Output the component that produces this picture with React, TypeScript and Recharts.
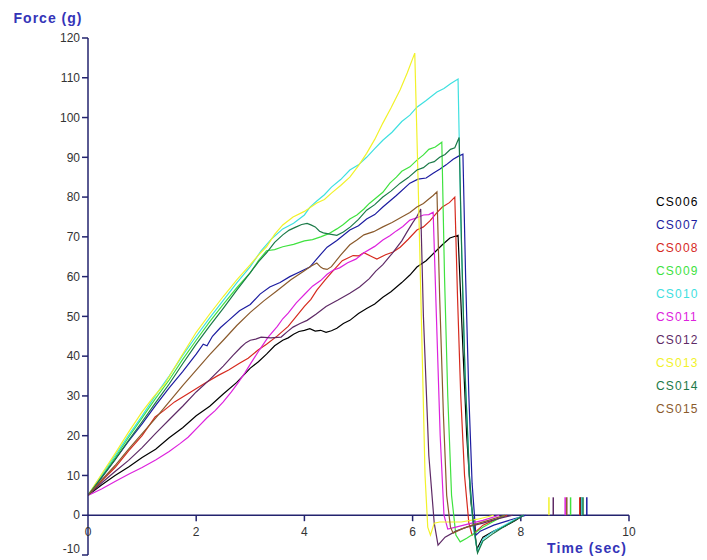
import React from 'react';
import { LineChart, Line, XAxis, YAxis, ReferenceLine, ReferenceDot, Legend } from 'recharts';

const seriesNames = ['CS006', 'CS007', 'CS008', 'CS009', 'CS010', 'CS011', 'CS012', 'CS013', 'CS014', 'CS015'];
const seriesColors = ['#000000', '#1c1ca0', '#d62a1e', '#3fe23f', '#3fe0e0', '#dd22dd', '#5e2a66', '#f2f22a', '#1b7a48', '#8a5a2c'];

// [time (sec), force (g)]
const cs006: [number, number][] = [
  [0, 5], [0.25, 7.6], [0.5, 10], [0.75, 12.1], [1, 14.5], [1.25, 16.6], [1.5, 19.5], [1.75, 22], [2, 25],
  [2.25, 27.4], [2.5, 30.5], [2.75, 33.4], [3, 37], [3.15, 38.6], [3.3, 40.5], [3.45, 42.6], [3.6, 44],
  [3.7, 44.6], [3.8, 45.5], [3.9, 46.2], [4.0, 46.5], [4.1, 46.9], [4.2, 46.3], [4.3, 46.5], [4.4, 46],
  [4.5, 46.4], [4.6, 47], [4.72, 48.2], [4.84, 49], [5.0, 50.7], [5.15, 52], [5.3, 53.1], [5.45, 54.8],
  [5.6, 56.2], [5.8, 58.5], [5.95, 60.4], [6.08, 62.4], [6.25, 64], [6.4, 66], [6.55, 68], [6.69, 69.7],
  [6.84, 70.4], [6.92, 45], [7.0, 20], [7.08, 3], [7.19, -8.5], [7.3, -5.5], [7.5, -4], [7.7, -2.8], [7.9, -1.3],
  [8.05, 0],
];
const cs007: [number, number][] = [
  [0, 5], [0.25, 9.4], [0.5, 14], [0.75, 18.6], [1, 23], [1.25, 27.6], [1.5, 32], [1.75, 36.1], [2, 40.5],
  [2.13, 43], [2.2, 42.6], [2.3, 45], [2.45, 47.2], [2.6, 49], [2.8, 51.4], [3, 53], [3.18, 55.6], [3.36, 57.4],
  [3.55, 58.5], [3.73, 60], [3.9, 61.1], [4.1, 62.4], [4.25, 64.8], [4.42, 67.4], [4.6, 69.1], [4.84, 71.7],
  [5.0, 72.8], [5.15, 74.5], [5.3, 75.6], [5.45, 77.5], [5.7, 80.4], [5.95, 83.5], [6.1, 84.5], [6.25, 84.8],
  [6.38, 86], [6.5, 87], [6.62, 88.1], [6.75, 89.5], [6.85, 90.3], [6.93, 90.8], [6.98, 60], [7.04, 30], [7.1, 8],
  [7.17, -5], [7.25, -4], [7.5, -2.5], [7.8, -1.2], [8.1, 0],
];
const cs008: [number, number][] = [
  [0, 5], [0.25, 8.6], [0.5, 12], [0.75, 16.2], [1, 20], [1.24, 24.7], [1.4, 26.3], [1.6, 28.5], [1.9, 31],
  [2.16, 33.2], [2.4, 35.1], [2.6, 36.5], [2.8, 38.2], [2.96, 39.5], [3.15, 41.6], [3.3, 43], [3.5, 45.1],
  [3.7, 47.5], [3.85, 50], [4.0, 52.5], [4.12, 54.3], [4.23, 56.6], [4.38, 59.1], [4.5, 61], [4.7, 64],
  [4.9, 65.3], [5.0, 65.2], [5.1, 66], [5.25, 65], [5.34, 64.4], [5.5, 65.5], [5.64, 66.2], [5.77, 67.4],
  [5.92, 69.4], [6.08, 71.7], [6.2, 72.5], [6.32, 74], [6.45, 76.1], [6.55, 77.5], [6.68, 78.6], [6.78, 80],
  [6.83, 55], [6.89, 30], [6.96, 10], [7.04, -2], [7.1, -5], [7.3, -2.5], [7.5, -1.3], [7.75, 0],
];
const cs009: [number, number][] = [
  [0, 5], [0.25, 9.8], [0.5, 14.5], [0.75, 19.6], [1, 24.5], [1.25, 29.4], [1.5, 34], [1.75, 39.2], [2, 44],
  [2.25, 48.7], [2.5, 53], [2.75, 57.2], [3, 61], [3.15, 64], [3.3, 66.5], [3.45, 66.8], [3.6, 67.5], [3.8, 68.1],
  [4, 69], [4.15, 69.3], [4.3, 70], [4.45, 70.8], [4.6, 72], [4.72, 73.1], [4.84, 74.5], [4.97, 75.5], [5.1, 77],
  [5.2, 78.4], [5.3, 79.5], [5.45, 81.2], [5.58, 83.5], [5.7, 85], [5.8, 86.5], [5.95, 87.6], [6.08, 89.3],
  [6.2, 90.6], [6.3, 92], [6.42, 92.6], [6.54, 93.8], [6.59, 60], [6.65, 30], [6.72, 5], [6.8, -5], [6.88, -6.7],
  [7.0, -5.8], [7.15, -4.5], [7.3, -3], [7.5, -1.5], [7.7, 0],
];
const cs010: [number, number][] = [
  [0, 5], [0.25, 10], [0.5, 15], [0.75, 20.1], [1, 25], [1.25, 30.2], [1.5, 35], [1.75, 40.2], [2, 45],
  [2.25, 49.6], [2.5, 54], [2.75, 58.4], [3, 62.5], [3.2, 66.5], [3.4, 69.6], [3.6, 72], [3.8, 73.4], [4.0, 75.5],
  [4.1, 77.4], [4.23, 79], [4.37, 80.6], [4.5, 82.5], [4.67, 84.4], [4.84, 86.8], [5.0, 88.1], [5.15, 90],
  [5.3, 92.2], [5.45, 94.3], [5.62, 96.3], [5.8, 99], [5.95, 100.6], [6.08, 102.6], [6.25, 104.3], [6.45, 106.4],
  [6.58, 107.3], [6.7, 108.5], [6.84, 109.7], [6.89, 75], [6.96, 40], [7.05, 10], [7.12, -3], [7.2, -9.3],
  [7.3, -6], [7.5, -4], [7.7, -2.5], [7.9, -1], [8.05, 0],
];
const cs011: [number, number][] = [
  [0, 5], [0.25, 6.6], [0.5, 8.5], [0.75, 10.3], [1, 12], [1.25, 13.9], [1.5, 16], [1.7, 18], [1.85, 19.6],
  [2.05, 22.4], [2.2, 24.5], [2.35, 26.3], [2.5, 28.5], [2.65, 31], [2.77, 33.2], [2.9, 35.8], [3.0, 38],
  [3.17, 41.6], [3.33, 44.8], [3.5, 47.5], [3.6, 49.4], [3.7, 50.8], [3.85, 53.4], [4.0, 55.5], [4.15, 57.6],
  [4.3, 59], [4.42, 60.6], [4.53, 61.6], [4.65, 62.2], [4.8, 63.5], [4.95, 64.4], [5.1, 66], [5.3, 67.6],
  [5.45, 69.2], [5.58, 70.3], [5.7, 71.5], [5.82, 72.6], [5.95, 74.2], [6.08, 74.8], [6.2, 75.5], [6.3, 75.6],
  [6.38, 76.2], [6.44, 50], [6.51, 20], [6.58, 0], [6.65, -3.5], [6.8, -3], [7.0, -2.3], [7.3, -1.3], [7.6, 0],
];
const cs012: [number, number][] = [
  [0, 5], [0.25, 8.1], [0.5, 11], [0.75, 13.8], [1, 17], [1.25, 20.6], [1.5, 24], [1.75, 27.4], [2, 31],
  [2.25, 34.1], [2.5, 37.5], [2.68, 40.2], [2.83, 42.3], [2.92, 43.4], [3.0, 44], [3.1, 44.3], [3.2, 44.8],
  [3.38, 44.6], [3.57, 44.8], [3.68, 46.1], [3.79, 47.3], [3.92, 48.2], [4.05, 49], [4.22, 50.6], [4.4, 52.5],
  [4.62, 54.1], [4.84, 55.8], [5.02, 57.4], [5.2, 59.5], [5.32, 61.4], [5.45, 63], [5.62, 65.8], [5.8, 69],
  [5.9, 71.3], [6.0, 73.5], [6.08, 75.1], [6.15, 77], [6.2, 50], [6.3, 15], [6.4, -2], [6.47, -7.5], [6.6, -5.5],
  [6.8, -4], [7.0, -3], [7.3, -2], [7.6, -0.8], [7.85, 0],
];
const cs013: [number, number][] = [
  [0, 5], [0.25, 10.3], [0.5, 15.5], [0.75, 20.9], [1, 26], [1.2, 29.6], [1.42, 33], [1.7, 39.4], [2, 46],
  [2.25, 50.6], [2.5, 55], [2.75, 59.2], [3, 63], [3.15, 65.4], [3.3, 67.5], [3.45, 70.6], [3.6, 73],
  [3.79, 75], [4.0, 76.4], [4.23, 78.5], [4.37, 79.4], [4.5, 81], [4.67, 82.9], [4.84, 85], [5.0, 87.9],
  [5.15, 91], [5.3, 94.5], [5.45, 98.6], [5.6, 102.4], [5.77, 107], [5.9, 111.2], [6.04, 116.2], [6.1, 85],
  [6.17, 45], [6.23, 10], [6.28, -3], [6.33, -5], [6.4, -2], [6.5, -1.7], [6.9, -1.7], [7.2, -1], [7.5, 0],
];
const cs014: [number, number][] = [
  [0, 5], [0.25, 9.5], [0.5, 14], [0.75, 18.8], [1, 23.5], [1.25, 28.3], [1.5, 33], [1.75, 38.1], [2, 43],
  [2.25, 47.6], [2.5, 52], [2.75, 56.6], [3, 61], [3.15, 63.7], [3.3, 66], [3.45, 68.6], [3.6, 70.5], [3.72, 71.7],
  [3.85, 72.5], [3.95, 73.1], [4.05, 73.4], [4.12, 73], [4.2, 72.5], [4.28, 71.4], [4.35, 71], [4.47, 70.7],
  [4.6, 70.4], [4.72, 71.2], [4.85, 72.5], [5.0, 74.4], [5.15, 76.7], [5.3, 78.1], [5.45, 80], [5.6, 81.5],
  [5.77, 83.5], [5.92, 84.9], [6.08, 86.8], [6.2, 87.4], [6.3, 88.5], [6.4, 88.9], [6.5, 90], [6.6, 90.7],
  [6.7, 92], [6.78, 92.4], [6.86, 95], [6.91, 65], [6.97, 35], [7.05, 10], [7.12, -2], [7.2, -9.5], [7.3, -6.5],
  [7.5, -4.5], [7.7, -2.8], [7.9, -1.2], [8.05, 0],
];
const cs015: [number, number][] = [
  [0, 5], [0.25, 8.8], [0.5, 12.5], [0.75, 16.6], [1, 20.5], [1.25, 24.4], [1.5, 28.5], [1.75, 32.6], [2, 36.5],
  [2.25, 40.4], [2.5, 44], [2.75, 47.7], [3, 51], [3.25, 53.9], [3.5, 56.5], [3.75, 59.2], [4, 61.5],
  [4.12, 62.6], [4.23, 63.4], [4.3, 62.4], [4.35, 62], [4.42, 61.8], [4.5, 62.5], [4.67, 65.4], [4.84, 68],
  [4.97, 69.2], [5.1, 70.5], [5.28, 71.3], [5.45, 72.5], [5.62, 73.6], [5.8, 75], [5.95, 76.1], [6.08, 77.5],
  [6.2, 78.4], [6.3, 79.5], [6.38, 80.4], [6.45, 81.3], [6.5, 55], [6.57, 25], [6.63, 5], [6.7, -3], [6.75, -4.5],
  [6.9, -3.5], [7.1, -2.5], [7.4, -1.3], [7.7, 0],
];

const seriesPoints = [cs006, cs007, cs008, cs009, cs010, cs011, cs012, cs013, cs014, cs015];

// end-of-test markers (time in sec), one per series, drawn as short bars above the zero line
const endMarkerTimes = [9.11, 9.22, 9.09, 8.92, 9.13, 8.82, 8.6, 8.52, 9.15, 8.85];
const endMarkerHeight = 4.5;

const yTicks = [-10, 0, 10, 20, 30, 40, 50, 60, 70, 80, 90, 100, 110, 120];
const xTicks = [0, 2, 4, 6, 8, 10];

const axisColor = '#23236e';
const titleColor = '#3434b8';
const font = 'Arial, "Liberation Sans", sans-serif';

const series = seriesNames.map((name, i) => ({
  name,
  color: seriesColors[i],
  data: seriesPoints[i].map(([t, f]) => ({ t, f })),
  end: endMarkerTimes[i],
}));

const LegendContent = () => (
  <div style={{ fontFamily: font, fontSize: 12, letterSpacing: 1.2 }}>
    {series.map((s) => (
      <div key={s.name} style={{ color: s.color, height: 23, lineHeight: '23px', whiteSpace: 'nowrap' }}>
        {s.name}
      </div>
    ))}
  </div>
);

const YTick = (props: any) => {
  const { x, y, payload } = props;
  const lift = payload.value === yTicks[0] ? -6 : 0;
  return (
    <text
      x={x}
      y={y + lift}
      dy="0.355em"
      textAnchor="end"
      fill="#333333"
      fontSize={12}
      fontFamily={font}
    >
      {payload.value}
    </text>
  );
};

export default function App() {
  return (
    <div style={{ fontFamily: font }}>
      <LineChart width={699} height={552} margin={{ top: 30, right: 78, bottom: 5, left: 0 }}>
        <XAxis dataKey="t" type="number" domain={[0, 10]} hide allowDataOverflow />
        <YAxis
          type="number"
          domain={[-10, 120]}
          ticks={yTicks}
          interval={0}
          width={80}
          stroke={axisColor}
          axisLine={{ stroke: axisColor, strokeWidth: 1.5 }}
          tickLine={{ stroke: axisColor, strokeWidth: 1.5 }}
          tickSize={6}
          tickMargin={2}
          tick={<YTick />}
          label={{
            value: 'Force (g)',
            position: 'top',
            offset: 15,
            fill: titleColor,
            fontSize: 14,
            fontWeight: 'bold',
            fontFamily: font,
            style: { letterSpacing: 1 },
          }}
        />
        <ReferenceLine y={0} stroke={axisColor} strokeWidth={1.5} />
        {xTicks.slice(1).map((v) => (
          <ReferenceLine
            key={'xt' + v}
            segment={[{ x: v, y: 0 }, { x: v, y: -1.5 }]}
            stroke={axisColor}
            strokeWidth={1.5}
          />
        ))}
        {xTicks.map((v) => (
          <ReferenceDot
            key={'xl' + v}
            x={v}
            y={0}
            r={0}
            fill="none"
            stroke="none"
            label={{ value: String(v), position: 'bottom', offset: 12, fill: '#333333', fontSize: 12, fontFamily: font }}
          />
        ))}
        {series.map((s) => (
          <ReferenceLine
            key={'em' + s.name}
            segment={[{ x: s.end, y: 0 }, { x: s.end, y: endMarkerHeight }]}
            stroke={s.color}
            strokeWidth={1.5}
          />
        ))}
        {series.map((s) => (
          <Line
            key={s.name}
            data={s.data}
            dataKey="f"
            name={s.name}
            type="linear"
            stroke={s.color}
            strokeWidth={1.2}
            dot={false}
            activeDot={false}
            isAnimationActive={false}
          />
        ))}
        <ReferenceDot
          x={10}
          y={-10}
          r={0}
          fill="none"
          stroke="none"
          label={{
            value: 'Time (sec)',
            position: 'insideBottomRight',
            offset: 2,
            fill: titleColor,
            fontSize: 14,
            fontWeight: 'bold',
            fontFamily: font,
            style: { letterSpacing: 1.1 },
          }}
        />
        <Legend
          layout="vertical"
          align="center"
          verticalAlign="middle"
          content={<LegendContent />}
          wrapperStyle={{ left: 648, top: 183, width: 60 }}
        />
      </LineChart>
    </div>
  );
}
